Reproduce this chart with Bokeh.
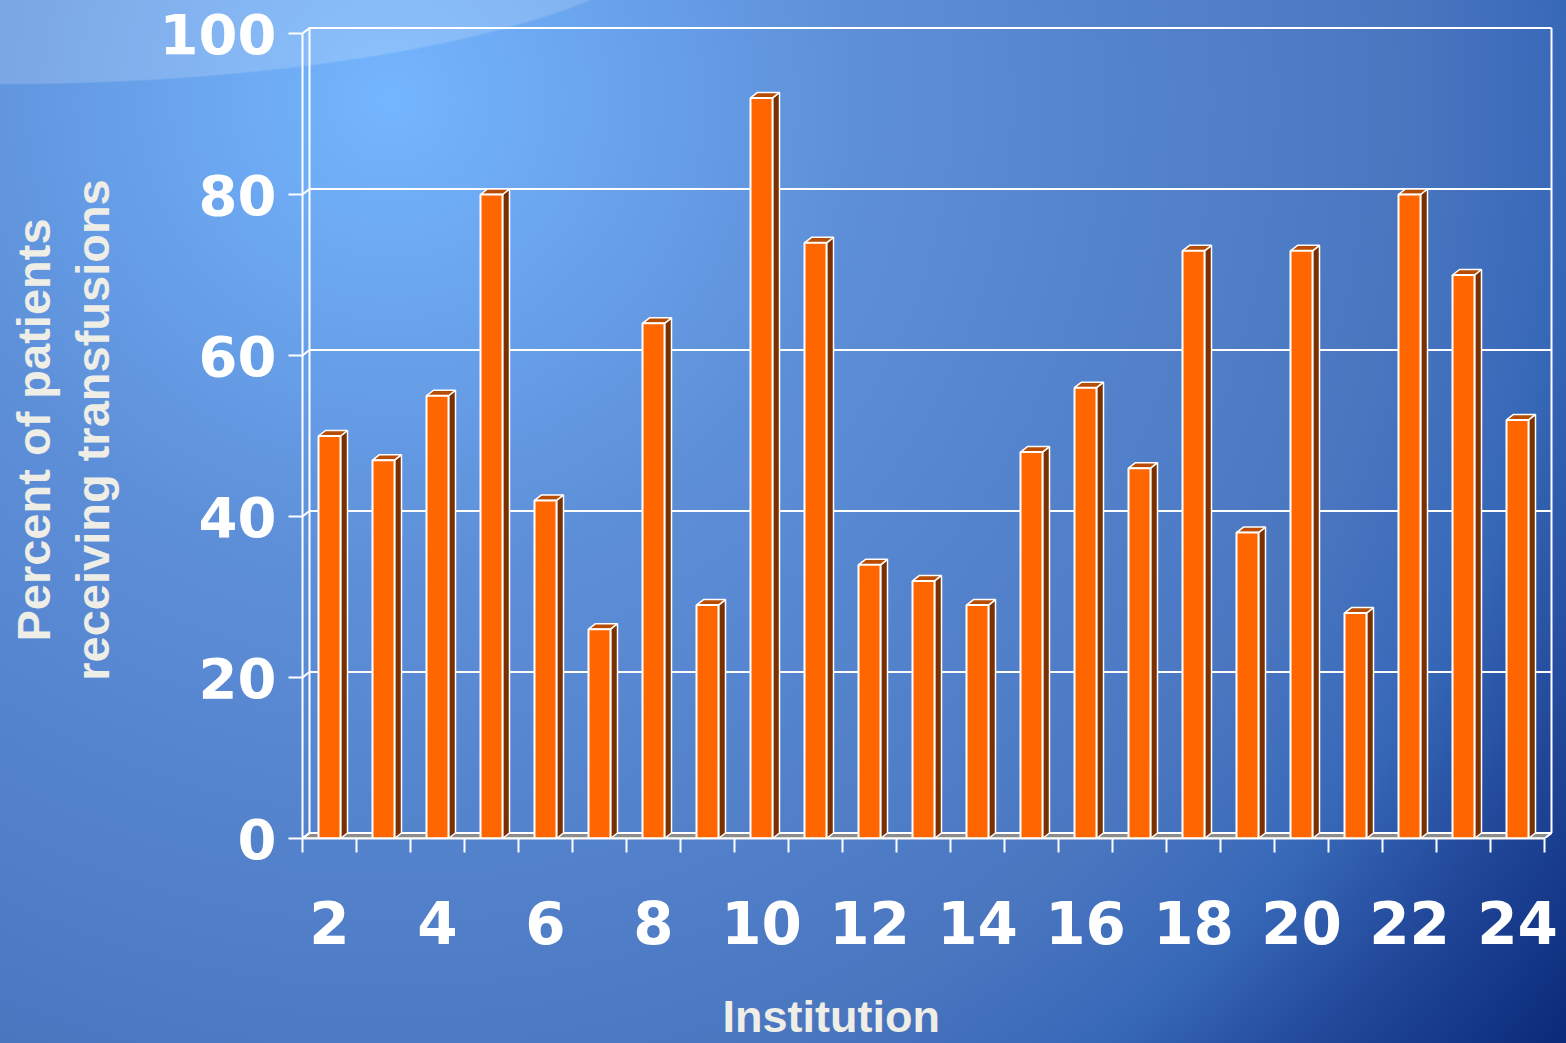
from bokeh.plotting import figure
from bokeh.models import Range1d, FixedTicker, Title
from bokeh.embed import file_html
from bokeh.resources import INLINE

# ---- data -------------------------------------------------------------
institutions = list(range(2, 25))
percent = [50, 47, 55, 80, 42, 26, 64, 29, 92, 74, 34, 32,
           29, 48, 56, 46, 73, 38, 73, 28, 80, 70, 52]
y_ticks = [0, 20, 40, 60, 80, 100]
x_label_ticks = [2, 4, 6, 8, 10, 12, 14, 16, 18, 20, 22, 24]

# ---- layout constants --------------------------------------------------
W, H = 1566, 1043
LEFT, RIGHT, TOP, BOTTOM = 302, 11, 21, 205
PX_PER_X = 54.0          # pixels per institution slot
PX_PER_Y = 8.05          # pixels per percent
X0 = institutions[0] - 0.5
X1 = institutions[-1] + 0.5
x_end = X0 + (W - LEFT - RIGHT) / PX_PER_X
y_end = (H - TOP - BOTTOM) / PX_PER_Y

# depth of the pseudo-3D box, converted to data units
DX = 7.0 / PX_PER_X
DY = 5.5 / PX_PER_Y
BAR_HALF = 11.0 / PX_PER_X

WHITE = "#ffffff"
TEXT = "#efeee6"

p = figure(width=W, height=H, output_backend="svg", toolbar_location=None, tools="",
           x_range=Range1d(X0, x_end), y_range=Range1d(0, y_end),
           min_border_left=LEFT, min_border_right=RIGHT,
           min_border_top=TOP, min_border_bottom=BOTTOM)
p.background_fill_color = None
p.border_fill_color = None
p.outline_line_color = None
p.xgrid.visible = False
p.ygrid.visible = False
p.styles = {
    "background": (
        "radial-gradient(700px 180px at 0px -95px, rgba(255,255,255,0.17) 99%, rgba(255,255,255,0) 100%),"
        "radial-gradient(circle 1500px at 390px 100px, #74b6ff 0px, #5d8fd8 470px, "
        "#4a76c0 1020px, #3768b8 1180px, #22489a 1320px, #0b2b7a 1500px)"
    )
}

# ---- floor and back wall ----------------------------------------------
p.patch([X0, X1, X1 + DX, X0 + DX], [0, 0, DY, DY],
        fill_color="#8c8c8c", line_color=WHITE, line_width=2)

grid_xs, grid_ys = [], []
for v in y_ticks:
    grid_xs.append([X0, X0 + DX, X1 + DX])
    grid_ys.append([v, v + DY, v + DY])
grid_xs.append([X0 + DX, X0 + DX])
grid_ys.append([DY, y_ticks[-1] + DY])
grid_xs.append([X1 + DX, X1 + DX])
grid_ys.append([DY, y_ticks[-1] + DY])
p.multi_line(grid_xs, grid_ys, line_color=WHITE, line_width=2)

# ---- bars: side, top, then front face ---------------------------------
side_xs, side_ys, top_xs, top_ys = [], [], [], []
for x, v in zip(institutions, percent):
    r = x + BAR_HALF
    l = x - BAR_HALF
    side_xs.append([r, r + DX, r + DX, r])
    side_ys.append([0, DY, v + DY, v])
    top_xs.append([l, r, r + DX, l + DX])
    top_ys.append([v, v, v + DY, v + DY])
p.patches(side_xs, side_ys, fill_color="#7a3000", line_color=WHITE, line_width=1.5)
p.patches(top_xs, top_ys, fill_color="#b84c00", line_color=WHITE, line_width=1.5)
p.quad(left=[x - BAR_HALF for x in institutions], right=[x + BAR_HALF for x in institutions],
       bottom=0, top=percent, fill_color="#ff6600", line_color=WHITE, line_width=2)

# ---- y axis ------------------------------------------------------------
ya = p.yaxis[0]
ya.ticker = FixedTicker(ticks=y_ticks)
ya.bounds = (0, 100)
ya.axis_line_color = WHITE
ya.axis_line_width = 2
ya.major_tick_line_color = WHITE
ya.major_tick_line_width = 2
ya.major_tick_out = 14
ya.major_tick_in = 0
ya.minor_tick_line_color = None
ya.major_label_standoff = 12
ya.major_label_text_font = "DejaVu Sans"
ya.major_label_text_font_style = "bold"
ya.major_label_text_font_size = "56px"
ya.major_label_text_color = WHITE
ya.axis_label = "Percent of patients\nreceiving transfusions"
ya.axis_label_text_font = "Liberation Sans"
ya.axis_label_text_font_style = "bold"
ya.axis_label_text_font_size = "47px"
ya.axis_label_text_line_height = 1.1
ya.axis_label_text_color = TEXT
ya.axis_label_standoff = 38

# ---- x axis: labels under each second slot, ticks on slot boundaries ---
xa = p.xaxis[0]
xa.ticker = FixedTicker(ticks=x_label_ticks,
                        minor_ticks=[X0 + i for i in range(len(institutions) + 1)])
xa.bounds = (X0, X1)
xa.axis_line_color = WHITE
xa.axis_line_width = 2
xa.major_tick_line_color = None
xa.major_tick_out = 0
xa.major_tick_in = 0
xa.minor_tick_line_color = WHITE
xa.minor_tick_line_width = 2
xa.minor_tick_out = 14
xa.minor_tick_in = 0
xa.major_label_standoff = 48
xa.major_label_text_font = "DejaVu Sans"
xa.major_label_text_font_style = "bold"
xa.major_label_text_font_size = "58px"
xa.major_label_text_color = WHITE
# blank axis label keeps room between the numbers and the title below
xa.axis_label = " "
xa.axis_label_text_font_size = "10px"
xa.axis_label_standoff = 28

title = Title(text="Institution", align="left", offset=420, standoff=0,
              text_font="Liberation Sans", text_font_style="bold",
              text_font_size="45px", text_color=TEXT)
p.add_layout(title, "below")

open("out.html", "w").write(file_html(p, INLINE))
